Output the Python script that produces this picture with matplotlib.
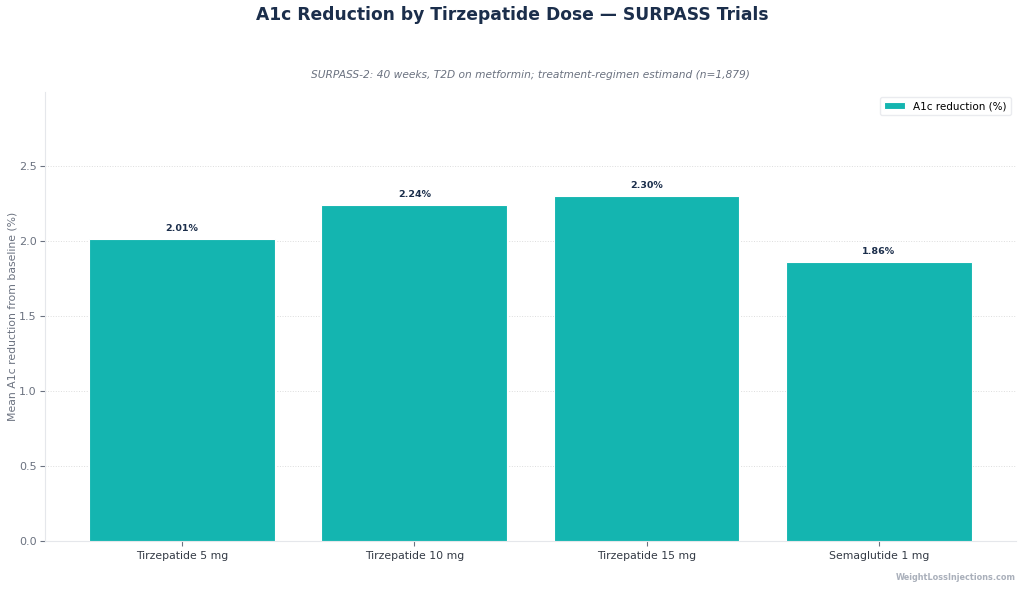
import matplotlib.pyplot as plt

labels = ["Tirzepatide 5 mg", "Tirzepatide 10 mg", "Tirzepatide 15 mg", "Semaglutide 1 mg"]
a1c_reduction = [2.01, 2.24, 2.30, 1.86]

TEAL = "#14b5b0"
NAVY = "#1b2e4b"
GRAY = "#6b7280"


def main() -> None:
    fig, ax = plt.subplots(figsize=(10.24, 5.89), dpi=100)
    fig.subplots_adjust(left=0.044, right=0.992, top=0.844, bottom=0.081)

    x = range(len(labels))
    bars = ax.bar(x, a1c_reduction, width=0.8, color=TEAL, edgecolor="white",
                  linewidth=0.8, label="A1c reduction (%)", zorder=3)
    for bar, val in zip(bars, a1c_reduction):
        ax.text(bar.get_x() + bar.get_width() / 2, val + 0.04, f"{val:.2f}%",
                ha="center", va="bottom", fontsize=6.8, fontweight="bold", color=NAVY)

    ax.set_xticks(list(x))
    ax.set_xticklabels(labels, fontsize=7.8, color="#333a45")
    ax.set_ylim(0, 2.99)
    ax.set_yticks([0, 0.5, 1.0, 1.5, 2.0, 2.5])
    ax.tick_params(axis="y", labelsize=8, labelcolor=GRAY, color=GRAY, pad=2.5)
    ax.tick_params(axis="x", color=GRAY)
    ax.set_ylabel("Mean A1c reduction from baseline (%)", fontsize=7.8, color=GRAY,
                  labelpad=1)
    ax.grid(axis="y", linestyle=":", color="#dddddd", linewidth=0.7, zorder=0)
    for side in ("top", "right"):
        ax.spines[side].set_visible(False)
    for side in ("left", "bottom"):
        ax.spines[side].set_color("#e5e7eb")

    ax.set_title("SURPASS-2: 40 weeks, T2D on metformin; treatment-regimen estimand (n=1,879)",
                 fontsize=7.7, style="italic", color=GRAY, pad=10)
    fig.suptitle("A1c Reduction by Tirzepatide Dose — SURPASS Trials",
                 fontsize=12.3, fontweight="bold", color=NAVY, y=0.99)

    leg = ax.legend(loc="upper right", fontsize=7.5, frameon=True)
    leg.get_frame().set_edgecolor("#e5e7eb")

    fig.text(0.992, 0.012, "WeightLossInjections.com", ha="right", va="bottom",
             fontsize=5.9, fontweight="bold", color="#aab0bb")

    fig.savefig("out.png", dpi=100)


if __name__ == "__main__":
    main()
